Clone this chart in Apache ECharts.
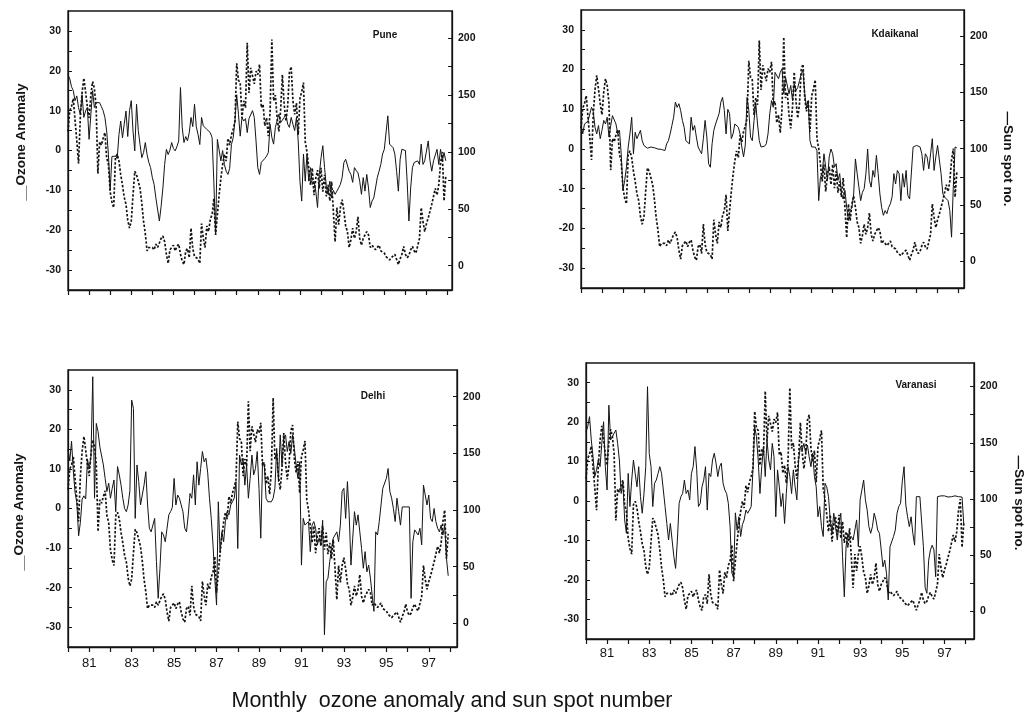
<!DOCTYPE html>
<html>
<head>
<meta charset="utf-8">
<script src="https://cdn.jsdelivr.net/npm/echarts@6.0.0/dist/echarts.min.js"></script>
<style>
html,body{margin:0;padding:0;background:#fff;}
#chart{width:1025px;height:728px;}
</style>
</head>
<body>
<div id="chart"></div>
<script>
// ---- data (monthly, Jan 1980 - Dec 1997) ----
const startYear = 1980;

const sunspot = [
 118,136,140,147,128,110,90,130,152,165,153,140,
 130,150,162,156,140,81,109,106,112,117,95,89,
 65,56,51,95,98,92,80,71,60,54,40,33,
 39,62,83,80,74,68,55,39,28,13,16,17,
 16,14,19,16,20,24,26,21,10,2,14,16,
 18,13,17,19,10,4,1,13,15,7,33,15,
 8,8,6,2,37,24,16,35,30,41,45,59,
 27,45,62,77,89,98,92,112,106,115,120,127,
 178,163,161,130,145,139,196,152,174,167,160,171,
 168,177,139,142,123,130,114,135,199,145,150,130,
 118,137,168,142,127,140,170,175,145,133,143,115,
 147,153,161,109,100,86,71,86,62,77,84,68,
 86,65,80,61,71,57,74,48,21,51,36,51,
 58,48,35,30,16,23,33,24,30,43,24,18,
 24,27,30,27,16,18,16,14,15,18,13,12,
 11,8,8,5,7,8,10,11,1,6,10,17,
 10,7,9,14,17,13,11,10,24,51,39,30,
 37,42,48,54,54,68,62,71,90,100,57,79
];

const pune = [
 19,18,16,15,12.5,13.7,10.8,9,14,8.3,9.9,10.8,
 2.8,9,15,10.8,12,11.5,12,11,10,8.3,4.9,-1,
 -10,-1.5,-2,-1.4,-2,4,7.4,3.2,6.6,9.9,3.5,10,
 12.5,4.9,-0.1,11.6,5,1.5,-1.8,-0.5,2,-1,-3,-4.3,
 -6.8,-8.5,-11.9,-12.3,-17.7,-14,-9.4,-3.5,0.3,-1,0.1,2,
 0.5,-0.1,1,2.4,15.8,5.7,2,3.5,2.4,4.5,8.3,6,
 11.6,6,4,1.5,8.3,6.2,5.8,5.3,5,4.5,3.2,-8,
 -21,2.8,2.3,-2.6,0,-3.5,-5.2,-6,-4.5,1.5,3.2,7.4,
 14,9.1,3.6,8.3,7.4,8,4.5,8,7.5,10,8.3,2.4,
 -4.3,-6,-3,-2.5,-2,-1.4,-0.5,6.6,3.3,1.6,5.8,7.5,
 9.1,7,6.6,8.3,9.1,6.6,5.8,8.3,6.6,5,8.3,2.4,
 -7.7,-12.7,-0.9,-7.7,-0.9,-7.7,-4.3,-8.5,-7.7,-10.2,-14.3,-6,
 -1.8,1.2,-4.3,-9,-11,-7.7,-11.9,-10,-11,-10.2,-9.4,-8.5,
 -6.8,-3,-2.2,-2.6,-5.2,-6,-8,-4.3,-5,-5.6,-7.7,-11,
 -6.8,-10.2,-6,-9.4,-14.3,-12.7,-11.9,-9.4,-6.8,-5.2,-3.5,-0.9,
 0.3,0.7,8.7,1.6,2,0.7,-0.9,-5.2,-10.2,-2.2,0.3,0.7,
 0,-7.7,-17.7,-9.4,-4.3,-3,-3,-2.6,-3.5,1.6,-3.5,-2.6,
 -2.2,2.4,-2.6,-5.2,-2.6,-2.2,0.3,-3.5,0.3,-2.6,-0.5,-2.6
];

const kodaikanal = [
 6,3.8,6.3,6,7,6.5,10.5,9.5,5.5,3.8,5.9,2.6,
 4.7,7.2,6.3,8,3,5.9,8.4,8.9,6.3,3.8,4.7,-1.2,
 -10.4,-7.9,-4.6,0.5,3.8,8,-1.2,4.2,2.6,2.1,4.7,2.1,
 0.9,0.5,0.2,0,0.5,0.3,0.3,0,0,-0.2,-0.1,-0.2,
 -0.4,1.3,2.1,3.8,5.9,8,11.8,10.5,11.4,9.7,7.2,5.5,
 2.1,2.1,1.3,8,4.7,5.9,3,0.5,-0.4,-1.2,2.6,7.2,
 3,-3.7,-4.6,1.3,4.7,6.3,5.9,8.9,11.8,13,9.7,3.8,
 10,8.9,2.6,3.8,6.3,6.7,5.5,3.8,0.5,-2,1,13,
 9.7,3,2.1,7.2,11.4,6.3,2.1,0.5,0.5,0.7,1.3,3.8,
 8.9,12.2,10.5,19.3,18.9,17.7,19.3,20.2,13.9,18.1,17.7,13.9,
 16,12.2,16.4,14.7,15.5,17.2,18.9,19.8,13.9,10.5,12.2,2.1,
 0.5,0.5,0.5,-0.4,-13,-7.1,-6.2,-1.2,-4.6,-7.9,-2,0,
 -1.2,-4.6,-3.7,-7.9,-6.2,-11.3,-12.6,-10.4,-14.7,-18,-15.5,-14.7,
 -11.3,-2.5,-6.2,-9.6,-13,-10.9,-10,-6.2,0,-7.9,-9.6,-5.4,
 -7.1,-1.6,-6.2,-11.3,-14.7,-16.7,-15.5,-16.3,-14.7,-13.8,-12,-6.2,
 -8.8,-5.4,-6.2,-13,-6.2,-9.6,-5.4,-11.7,-12.6,-12.6,0.5,0.7,
 0.9,0.7,0.5,-1.2,-5.4,-1.2,-2,-5,-1.2,2.6,-5.4,-2,
 0.9,0.5,-6.2,-11.3,-12.1,-12.1,-13,-15.5,-22.2,-9.6,0.5,0.3
];

const delhi = [
 15,12,17,9.5,4,1.5,-6.9,-3.5,2.4,3.2,2.4,12.5,
 10,13.3,33.3,2.6,21.5,19.4,15.6,15.2,11,7.6,4.3,6.4,
 2.6,5.1,7.2,-0.8,10.6,8.5,5.9,2.6,0,-0.8,0.9,4.5,
 27.4,25.3,-2.5,11,6.8,0.9,3.4,5.9,9.3,0.9,-5,-5.9,
 -5.9,-2.5,-13.4,-22.7,-15.1,-5.9,-6.7,-8.4,-5,-1.6,-0.8,0.3,
 7.6,0.9,3.4,2.6,0.9,-0.8,-5,-5.9,-1.6,3.8,2.6,8.5,
 0.9,11.8,5.9,10.1,14.4,11.8,12.7,9,2.6,-2.5,-9.2,-17.6,
 -24.4,1.7,-11,-5.9,-8.4,-3.3,-0.8,-1.6,0.9,1.7,2.6,6.8,
 -10.1,13.5,11,12.7,5.9,11,2.6,7.6,13.5,8.5,10.1,14.4,
 5.1,-7.5,11.8,11,2.6,1.7,1.5,1.7,2.6,5.1,15.2,6.8,
 18.6,11,17.7,18.6,14.4,16.9,13.9,18.6,15.2,11,7.6,11.8,
 -14.3,-2.5,-4.2,-4.2,-3.3,-10.9,-4.2,-3.3,-5,-9.2,-7.5,-9.2,
 -3,-31.9,-18.5,-17.6,-13.4,-10.1,-7.5,-6.7,-5.9,-8.4,-4.2,4.3,
 5.1,-2.5,6.8,-1.6,-14.3,-7.5,-0.8,-4.2,-1.6,-5.9,-10.1,-15.1,
 -10.9,-16,-14.3,-17.6,-21.9,-26,-5.9,-6.7,-3.3,0.9,5.1,5.1,
 7.6,10.1,4.3,2.6,0,-3.3,2.6,-0.8,-4.2,0.4,0.4,0.4,
 0.4,0.4,-22.7,-8.4,-5.4,-5,-6.7,-5,-9.2,5.9,3.4,0.9,
 3.4,-2.5,-3.3,0,-3.3,-5,-5.9,-4.2,-6.7,-4.2,-12.6,-17
];

const varanasi = [
 17.5,18.9,21.4,15.5,11.2,6.2,7.9,10.4,8.7,14.6,20.1,8.7,
 2.8,24.3,15.5,16.3,17.2,18,14.6,10.4,1.9,4.5,-4.8,-8.2,
 7,-1.4,5.3,10.4,7,3.6,8.7,1.1,-3.1,1.9,8.7,29,
 12,8.7,-1.4,4.5,5.3,7,8.7,7,2.8,-1.4,-5.7,-9.9,
 -5.7,-9.9,-14.1,-17.1,-9.9,-0.6,1.1,1.9,5.3,1.9,2.8,0.3,
 7,8.7,13.8,7.9,-1.4,-0.6,3.6,5.3,8.7,-2.3,7,6.2,
 10.4,12.1,9.6,6.2,8.7,9.6,4.5,2.8,1.9,-0.6,-6.5,-18.3,
 -19.2,-3,-7.4,-4,-9,-6,-4.8,-2.3,-3.1,-2.3,-1.4,7.9,
 18.9,16.3,10.4,1.9,8.7,13.8,6.2,15.5,10.4,7.9,14.6,11.2,
 -4,7.9,3.6,-1.4,1.9,-5.7,1.9,8.7,6.2,1.9,7.9,3.6,
 0.3,10.4,13.8,12.9,14.6,12.1,14.2,11.2,8.7,12.1,6.2,3.6,
 -4,-1.4,-6.5,-9,4.5,3.6,1.1,-4.8,-8.2,-3.1,-6.5,-9.9,
 -5.7,-3.1,-14.1,-24.3,-11.6,-8.2,-9.9,-9,-9.9,-9.5,-4.8,-11.6,
 0.3,2.8,5.3,0.3,-2.3,-6.5,-8.2,-6.5,-3.1,-4.8,-7.4,-8.2,
 -12.4,-16.7,-15,-18.3,-25.1,-11.6,-11.2,-9,-7.4,-3.1,-1.4,-0.6,
 5,8.7,-1,-4,-6.5,-4,-8.2,-11.2,1.1,1.1,1.1,1.1,
 -11.6,-22,-23.4,-15,-12.4,-11.2,-12.4,-19.2,1.1,1.1,1.3,1.1,
 1.3,1.1,1,1.3,1.1,1.1,1.3,1.1,1.1,1.1,1,-6
];

const stationNames = ['Pune', 'Kdaikanal', 'Delhi', 'Varanasi'];
const yearTicks = [1980,1981,1982,1983,1984,1985,1986,1987,1988,1989,1990,1991,1992,1993,1994,1995,1996,1997,1998];
const yearLabels = [1981,1983,1985,1987,1989,1991,1993,1995,1997];
const ozoneMinorTicks = [-30,-25,-20,-15,-10,-5,0,5,10,15,20,25,30];
const ozoneLabels = [-30,-20,-10,0,10,20,30];
const sunMinorTicks = [0,25,50,75,100,125,150,175,200];
const sunLabels = [0,50,100,150,200];
const leftTitle = '__Ozone Anomaly';
const rightTitle = '\u2014Sun spot no.';
const mainTitle = 'Monthly  ozone anomaly and sun spot number';

// ---- layout ----
const ink = '#141414';
const FONT = '"Liberation Sans", Arial, sans-serif';
const panels = [
  {ozone: pune,       grid: {left: 68,  top: 11,  width: 384, height: 279}, xMax: 1998.21, sMin: -21.4, sMax: 224, bottom: false, lblMargin: 10,
   label: {x: 385, y: 35}},
  {ozone: kodaikanal, grid: {left: 581, top: 10,  width: 383, height: 278}, xMax: 1998.26, sMin: -23.6, sMax: 223, bottom: false, lblMargin: 10,
   label: {x: 895, y: 34}},
  {ozone: delhi,      grid: {left: 68,  top: 370, width: 389, height: 277}, xMax: 1998.33, sMin: -20.9, sMax: 223.6, bottom: true, lblMargin: 10,
   label: {x: 373, y: 396}},
  {ozone: varanasi,   grid: {left: 586, top: 363, width: 388, height: 276}, xMax: 1998.40, sMin: -24.5, sMax: 221, bottom: true, lblMargin: 8,
   label: {x: 916, y: 385}}
];

const toXY = arr => arr.map((v, i) => [startYear + i / 12, v]);

const grid = [], xAxis = [], yAxis = [], series = [], graphic = [];
panels.forEach((p, i) => {
  grid.push(Object.assign({show: true, borderColor: ink, borderWidth: 1.3, backgroundColor: 'transparent'}, p.grid));
  xAxis.push({
    gridIndex: i, type: 'value', min: 1980, max: p.xMax,
    axisLine: {show: true, onZero: false, lineStyle: {color: ink, width: 1.3}},
    axisTick: {show: true, customValues: yearTicks, length: 5, lineStyle: {color: ink, width: 1.2}},
    axisLabel: {show: p.bottom, customValues: yearLabels, formatter: v => String(Math.round(v)).slice(2),
      color: ink, fontSize: 13, fontFamily: FONT, margin: p.lblMargin},
    splitLine: {show: false}
  });
  yAxis.push({
    gridIndex: i, type: 'value', min: -35, max: 35, position: 'left',
    axisLine: {show: true, onZero: false, lineStyle: {color: ink, width: 1.3}},
    axisTick: {show: true, inside: true, customValues: ozoneMinorTicks, length: 4, lineStyle: {color: ink, width: 1}},
    axisLabel: {customValues: ozoneLabels, color: ink, fontSize: 10.5, fontWeight: 'bold', fontFamily: FONT, margin: 7},
    splitLine: {show: false}
  });
  yAxis.push({
    gridIndex: i, type: 'value', min: p.sMin, max: p.sMax, position: 'right',
    axisLine: {show: true, onZero: false, lineStyle: {color: ink, width: 1.3}},
    axisTick: {show: true, inside: true, customValues: sunMinorTicks, length: 4, lineStyle: {color: ink, width: 1}},
    axisLabel: {customValues: sunLabels, color: ink, fontSize: 10.5, fontWeight: 'bold', fontFamily: FONT, margin: 6},
    splitLine: {show: false}
  });
  series.push({
    type: 'line', xAxisIndex: i, yAxisIndex: 2 * i + 1, data: toXY(sunspot),
    showSymbol: false, symbol: 'none', silent: true, animation: false,
    lineStyle: {color: ink, width: 1.7, type: [2.4, 1.8]}
  });
  series.push({
    type: 'line', xAxisIndex: i, yAxisIndex: 2 * i, data: toXY(p.ozone),
    showSymbol: false, symbol: 'none', silent: true, animation: false,
    lineStyle: {color: ink, width: 1}
  });
  graphic.push({type: 'text', x: p.label.x, y: p.label.y, silent: true,
    style: {text: stationNames[i], fill: ink, font: 'bold 10px ' + FONT, textAlign: 'center', textVerticalAlign: 'middle'}});
});

// axis titles
[[21, 142], [19, 512]].forEach(([x, y]) => graphic.push({type: 'text', x, y, rotation: Math.PI / 2, silent: true,
  style: {text: leftTitle, fill: ink, font: 'bold 13.5px ' + FONT, textAlign: 'center', textVerticalAlign: 'middle'}}));
[[1008, 159], [1019, 503]].forEach(([x, y]) => graphic.push({type: 'text', x, y, rotation: -Math.PI / 2, silent: true,
  style: {text: rightTitle, fill: ink, font: 'bold 13.5px ' + FONT, textAlign: 'center', textVerticalAlign: 'middle'}}));
graphic.push({type: 'text', x: 452, y: 701, silent: true,
  style: {text: mainTitle, fill: ink, font: '21.5px ' + FONT, textAlign: 'center', textVerticalAlign: 'middle'}});

const chart = echarts.init(document.getElementById('chart'), null, {renderer: 'canvas'});
chart.setOption({backgroundColor: '#ffffff', animation: false, grid, xAxis, yAxis, series, graphic});
</script>
</body>
</html>
